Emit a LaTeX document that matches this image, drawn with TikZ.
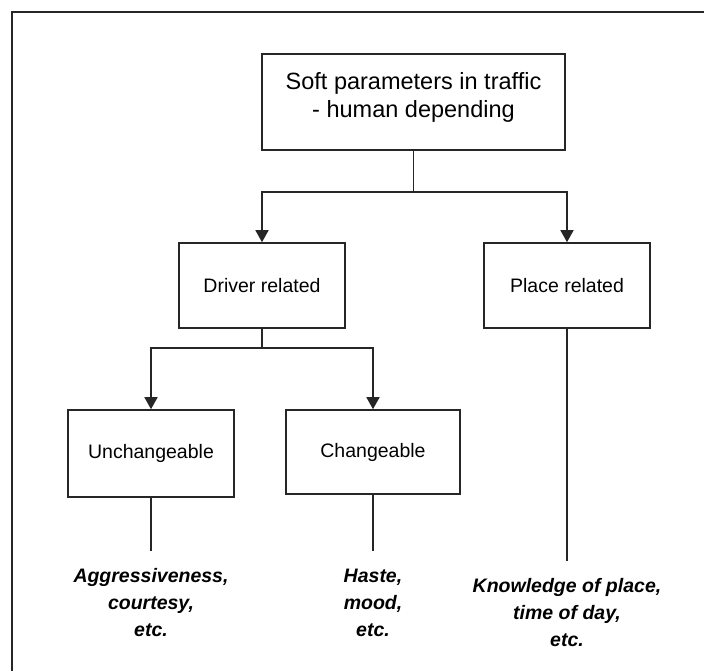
\documentclass[tikz,border=0pt]{standalone}
\usepackage{fontspec}
\setmainfont{Liberation Sans}
\usetikzlibrary{arrows.meta}
\begin{document}
\begin{tikzpicture}[x=1pt,y=-1pt,
  box/.style={draw=black!85,line width=1.6pt,inner sep=0pt,align=center,font=\fontsize{19.5}{23}\selectfont},
  conn/.style={draw=black!85,line width=1.6pt},
  arr/.style={conn,-{Triangle[width=13pt,length=12pt]}},
  note/.style={inner sep=0pt,align=center,font=\fontsize{19.5}{27}\selectfont\bfseries\itshape}]
\useasboundingbox (0,0) rectangle (704,671);
\draw[draw=black!85,line width=2pt] (12,12) rectangle (720,690);
\node[box,minimum width=303pt,minimum height=96pt] (top) at (413.5,102) {};
\node[font=\fontsize{23.5}{28}\selectfont,align=center,inner sep=0pt] (toptext) at (413.5,97) {Soft parameters in traffic\\- human depending};
\node[box,minimum width=166pt,minimum height=85pt] (drv) at (262,285.5) {Driver related};
\node[box,minimum width=166pt,minimum height=85pt] (plc) at (567,285.5) {Place related};
\node[box,minimum width=166pt,minimum height=87pt] (unc) at (151,453.5) {Unchangeable};
\node[box,minimum width=174pt,minimum height=84pt] (chg) at (373,452) {Changeable};
\node[note] (n1) at (151,603) {Aggressiveness,\\courtesy,\\etc.};
\node[note] (n2) at (373,603) {Haste,\\mood,\\etc.};
\node[note] (n3) at (567,613) {Knowledge of place,\\time of day,\\etc.};
\coordinate (b1) at (413.5,192);
\coordinate (b2) at (262,348);
\coordinate (e1) at (151,551);
\coordinate (e2) at (373,551);
\coordinate (e3) at (567,561);
\draw[conn] (top.south) -- (b1);
\draw[arr] (b1) -| (drv.north);
\draw[arr] (b1) -| (plc.north);
\draw[conn] (drv.south) -- (b2);
\draw[arr] (b2) -| (unc.north);
\draw[arr] (b2) -| (chg.north);
\draw[conn] (unc.south) -- (e1);
\draw[conn] (chg.south) -- (e2);
\draw[conn] (plc.south) -- (e3);
\end{tikzpicture}
\end{document}
